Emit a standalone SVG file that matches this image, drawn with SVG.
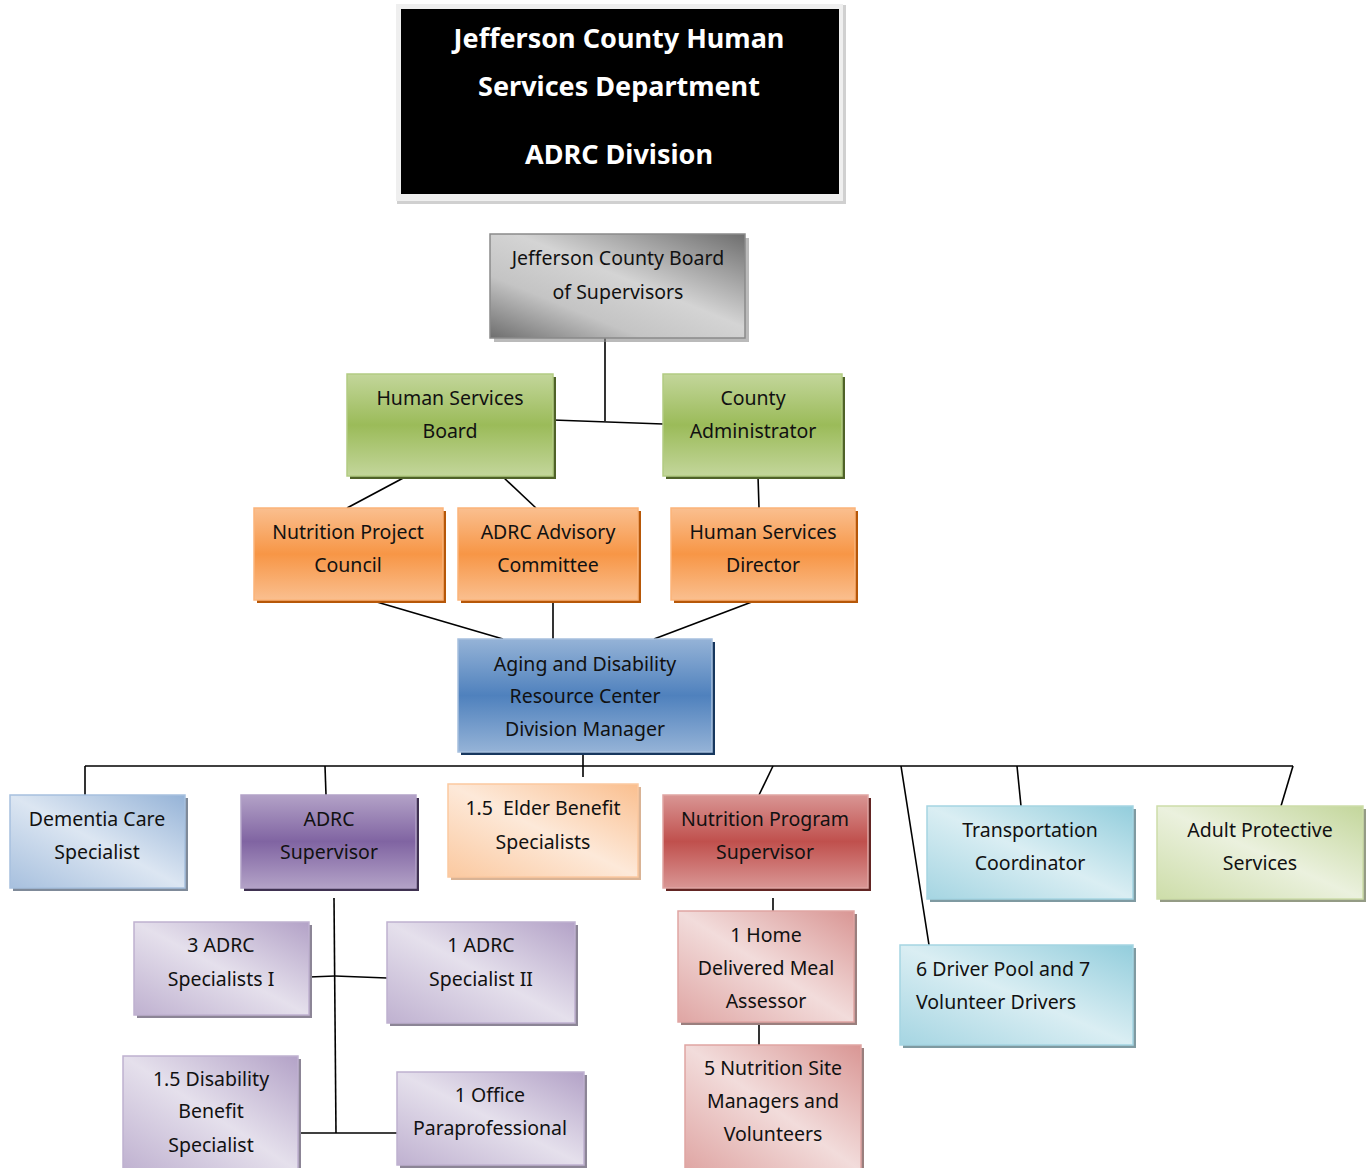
<svg xmlns="http://www.w3.org/2000/svg" width="1371" height="1168" viewBox="0 0 1371 1168">
<defs>
<style>
.t{font-family:"Noto Sans","Open Sans","Liberation Sans",sans-serif;font-size:19.5px;fill:#111;text-anchor:middle}
.tl{text-anchor:start}
.h{font-family:"Noto Sans","Open Sans","Liberation Sans",sans-serif;font-size:27px;font-weight:bold;fill:#fff;text-anchor:middle}
.ln{stroke:#000;stroke-width:1.6;fill:none}
</style>
<linearGradient id="gGreen" x1="0" y1="0" x2="0" y2="1"><stop offset="0" stop-color="#c3d69b"/><stop offset="0.5" stop-color="#9bbb59"/><stop offset="1" stop-color="#c3d69b"/></linearGradient>
<linearGradient id="gOrange" x1="0" y1="0" x2="0" y2="1"><stop offset="0" stop-color="#fabf8f"/><stop offset="0.5" stop-color="#f79646"/><stop offset="1" stop-color="#fabf8f"/></linearGradient>
<linearGradient id="gBlue" x1="0" y1="0" x2="0" y2="1"><stop offset="0" stop-color="#95b3d7"/><stop offset="0.5" stop-color="#4f81bd"/><stop offset="1" stop-color="#95b3d7"/></linearGradient>
<linearGradient id="gPurple" x1="0" y1="0" x2="0" y2="1"><stop offset="0" stop-color="#b3a2c7"/><stop offset="0.5" stop-color="#8064a2"/><stop offset="1" stop-color="#b3a2c7"/></linearGradient>
<linearGradient id="gRed" x1="0" y1="0" x2="0" y2="1"><stop offset="0" stop-color="#d99694"/><stop offset="0.5" stop-color="#c0504d"/><stop offset="1" stop-color="#d99694"/></linearGradient>
<linearGradient id="gGray" x1="1" y1="0" x2="0" y2="1"><stop offset="0" stop-color="#6e6e6e"/><stop offset="0.45" stop-color="#d4d4d4"/><stop offset="0.7" stop-color="#c4c4c4"/><stop offset="1" stop-color="#6e6e6e"/></linearGradient>
<linearGradient id="gLBlue" x1="1" y1="0" x2="0" y2="1"><stop offset="0" stop-color="#95b3d7"/><stop offset="0.5" stop-color="#dce6f2"/><stop offset="1" stop-color="#a7c0de"/></linearGradient>
<linearGradient id="gLOrange" x1="1" y1="0" x2="0" y2="1"><stop offset="0" stop-color="#fabf8f"/><stop offset="0.5" stop-color="#fde9d9"/><stop offset="1" stop-color="#fbc9a0"/></linearGradient>
<linearGradient id="gLCyan" x1="1" y1="0" x2="0" y2="1"><stop offset="0" stop-color="#92cddc"/><stop offset="0.5" stop-color="#daeef3"/><stop offset="1" stop-color="#a5d5e2"/></linearGradient>
<linearGradient id="gLGreen" x1="1" y1="0" x2="0" y2="1"><stop offset="0" stop-color="#c3d69b"/><stop offset="0.5" stop-color="#ebf1de"/><stop offset="1" stop-color="#cddda9"/></linearGradient>
<linearGradient id="gLPurple" x1="1" y1="0" x2="0" y2="1"><stop offset="0" stop-color="#b3a2c7"/><stop offset="0.5" stop-color="#e5e0ec"/><stop offset="1" stop-color="#bfb1d0"/></linearGradient>
<linearGradient id="gLRed" x1="1" y1="0" x2="0" y2="1"><stop offset="0" stop-color="#d99694"/><stop offset="0.5" stop-color="#f2dcdb"/><stop offset="1" stop-color="#dfa5a3"/></linearGradient>
</defs>
<rect width="1371" height="1168" fill="#fff"/>

<g id="connectors">
<line class="ln" x1="605" y1="338" x2="605" y2="421"/>
<line class="ln" x1="553" y1="420" x2="663" y2="424"/>
<line class="ln" x1="407" y1="476" x2="347" y2="508"/>
<line class="ln" x1="502" y1="476" x2="536" y2="508"/>
<line class="ln" x1="758" y1="476" x2="759" y2="508"/>
<line class="ln" x1="370" y1="600" x2="503" y2="639"/>
<line class="ln" x1="553" y1="600" x2="553" y2="639"/>
<line class="ln" x1="757" y1="600" x2="654" y2="639"/>
<line class="ln" x1="583" y1="752" x2="583" y2="777"/>
<line class="ln" x1="85" y1="766" x2="1293" y2="766"/>
<line class="ln" x1="85" y1="766" x2="85" y2="795"/>
<line class="ln" x1="325" y1="766" x2="326" y2="795"/>
<line class="ln" x1="773" y1="766" x2="759" y2="795"/>
<line class="ln" x1="901" y1="766" x2="929" y2="945"/>
<line class="ln" x1="1017" y1="766" x2="1021" y2="806"/>
<line class="ln" x1="1293" y1="766" x2="1281" y2="806"/>
<line class="ln" x1="334" y1="898" x2="336" y2="1133"/>
<line class="ln" x1="309" y1="977" x2="335" y2="976"/>
<line class="ln" x1="335" y1="976" x2="387" y2="978"/>
<line class="ln" x1="298" y1="1133" x2="397" y2="1133"/>
<line class="ln" x1="773" y1="898" x2="773" y2="911"/>
<line class="ln" x1="759" y1="1022" x2="759" y2="1045"/>
</g>

<g id="title">
<rect x="397" y="5" width="449" height="199" fill="#d0d0d0"/>
<rect x="396" y="4" width="447" height="197" fill="#efefef"/>
<rect x="401" y="9" width="438" height="185" fill="#000"/>
<text class="h" x="619" y="48">Jefferson County Human</text>
<text class="h" x="619" y="96">Services Department</text>
<text class="h" x="619" y="164">ADRC Division</text>
</g>

<g id="board">
<rect x="494" y="238" width="255" height="104" fill="#8c8c8c" opacity="0.6"/>
<rect x="490" y="234" width="255" height="104" fill="url(#gGray)" stroke="#8a8a8a" stroke-width="1.5"/>
<text class="t" x="618" y="265">Jefferson County Board</text>
<text class="t" x="618" y="299">of Supervisors</text>
</g>

<g id="hsboard">
<rect x="350" y="377" width="206" height="102" fill="#4f6228"/>
<rect x="347" y="374" width="206" height="102" fill="url(#gGreen)" stroke="#b3cc82" stroke-width="1.5"/>
<text class="t" x="450" y="405">Human Services</text>
<text class="t" x="450" y="438">Board</text>
</g>

<g id="countyadmin">
<rect x="666" y="377" width="179" height="102" fill="#4f6228"/>
<rect x="663" y="374" width="179" height="102" fill="url(#gGreen)" stroke="#b3cc82" stroke-width="1.5"/>
<text class="t" x="753" y="405">County</text>
<text class="t" x="753" y="438">Administrator</text>
</g>

<g id="nutritioncouncil">
<rect x="257" y="511" width="189" height="92" fill="#b65708"/>
<rect x="254" y="508" width="189" height="92" fill="url(#gOrange)" stroke="#fbb47a" stroke-width="1.5"/>
<text class="t" x="348" y="539">Nutrition Project</text>
<text class="t" x="348" y="572">Council</text>
</g>

<g id="advisory">
<rect x="461" y="511" width="180" height="92" fill="#b65708"/>
<rect x="458" y="508" width="180" height="92" fill="url(#gOrange)" stroke="#fbb47a" stroke-width="1.5"/>
<text class="t" x="548" y="539">ADRC Advisory</text>
<text class="t" x="548" y="572">Committee</text>
</g>

<g id="hsdirector">
<rect x="674" y="511" width="184" height="92" fill="#b65708"/>
<rect x="671" y="508" width="184" height="92" fill="url(#gOrange)" stroke="#fbb47a" stroke-width="1.5"/>
<text class="t" x="763" y="539">Human Services</text>
<text class="t" x="763" y="572">Director</text>
</g>

<g id="manager">
<rect x="461" y="642" width="254" height="113" fill="#17375e"/>
<rect x="458" y="639" width="254" height="113" fill="url(#gBlue)" stroke="#a7c0de" stroke-width="1.5"/>
<text class="t" x="585" y="671">Aging and Disability</text>
<text class="t" x="585" y="703">Resource Center</text>
<text class="t" x="585" y="736">Division Manager</text>
</g>

<g id="dementia">
<rect x="13" y="798" width="175" height="93" fill="#7f8a99"/>
<rect x="10" y="795" width="175" height="93" fill="url(#gLBlue)" stroke="#a7c0de" stroke-width="1.5"/>
<text class="t" x="97" y="826">Dementia Care</text>
<text class="t" x="97" y="859">Specialist</text>
</g>

<g id="adrcsupervisor">
<rect x="244" y="798" width="175" height="93" fill="#3f3151"/>
<rect x="241" y="795" width="175" height="93" fill="url(#gPurple)" stroke="#b3a2c7" stroke-width="1.5"/>
<text class="t" x="329" y="826">ADRC</text>
<text class="t" x="329" y="859">Supervisor</text>
</g>

<g id="elderbenefit">
<rect x="451" y="787" width="190" height="93" fill="#d9b395"/>
<rect x="448" y="784" width="190" height="93" fill="url(#gLOrange)" stroke="#fbc9a0" stroke-width="1.5"/>
<text class="t" x="543" y="815" xml:space="preserve">1.5  Elder Benefit</text>
<text class="t" x="543" y="849">Specialists</text>
</g>

<g id="nutritionsupervisor">
<rect x="666" y="798" width="205" height="93" fill="#632523"/>
<rect x="663" y="795" width="205" height="93" fill="url(#gRed)" stroke="#dfa5a3" stroke-width="1.5"/>
<text class="t" x="765" y="826">Nutrition Program</text>
<text class="t" x="765" y="859">Supervisor</text>
</g>

<g id="transportation">
<rect x="930" y="809" width="206" height="93" fill="#7f9aa1"/>
<rect x="927" y="806" width="206" height="93" fill="url(#gLCyan)" stroke="#a5d5e2" stroke-width="1.5"/>
<text class="t" x="1030" y="837">Transportation</text>
<text class="t" x="1030" y="870">Coordinator</text>
</g>

<g id="aps">
<rect x="1160" y="809" width="206" height="93" fill="#949b85"/>
<rect x="1157" y="806" width="206" height="93" fill="url(#gLGreen)" stroke="#cddda9" stroke-width="1.5"/>
<text class="t" x="1260" y="837">Adult Protective</text>
<text class="t" x="1260" y="870">Services</text>
</g>

<g id="specialists1">
<rect x="137" y="925" width="175" height="93" fill="#8c8596"/>
<rect x="134" y="922" width="175" height="93" fill="url(#gLPurple)" stroke="#bfb1d0" stroke-width="1.5"/>
<text class="t" x="221" y="952">3 ADRC</text>
<text class="t" x="221" y="986">Specialists I</text>
</g>

<g id="specialist2">
<rect x="390" y="925" width="188" height="101" fill="#8c8596"/>
<rect x="387" y="922" width="188" height="101" fill="url(#gLPurple)" stroke="#bfb1d0" stroke-width="1.5"/>
<text class="t" x="481" y="952">1 ADRC</text>
<text class="t" x="481" y="986">Specialist II</text>
</g>

<g id="disability">
<rect x="126" y="1059" width="175" height="112" fill="#8c8596"/>
<rect x="123" y="1056" width="175" height="115" fill="url(#gLPurple)" stroke="#bfb1d0" stroke-width="1.5"/>
<text class="t" x="211" y="1086">1.5 Disability</text>
<text class="t" x="211" y="1118">Benefit</text>
<text class="t" x="211" y="1152">Specialist</text>
</g>

<g id="paraprofessional">
<rect x="400" y="1075" width="187" height="93" fill="#8c8596"/>
<rect x="397" y="1072" width="187" height="93" fill="url(#gLPurple)" stroke="#bfb1d0" stroke-width="1.5"/>
<text class="t" x="490" y="1102">1 Office</text>
<text class="t" x="490" y="1135">Paraprofessional</text>
</g>

<g id="homedelivered">
<rect x="681" y="914" width="176" height="111" fill="#9a7f7e"/>
<rect x="678" y="911" width="176" height="111" fill="url(#gLRed)" stroke="#dfa5a3" stroke-width="1.5"/>
<text class="t" x="766" y="942">1 Home</text>
<text class="t" x="766" y="975">Delivered Meal</text>
<text class="t" x="766" y="1008">Assessor</text>
</g>

<g id="sitemanagers">
<rect x="688" y="1048" width="176" height="123" fill="#9a7f7e"/>
<rect x="685" y="1045" width="176" height="126" fill="url(#gLRed)" stroke="#dfa5a3" stroke-width="1.5"/>
<text class="t" x="773" y="1075">5 Nutrition Site</text>
<text class="t" x="773" y="1108">Managers and</text>
<text class="t" x="773" y="1141">Volunteers</text>
</g>

<g id="drivers">
<rect x="903" y="948" width="233" height="100" fill="#7f9aa1"/>
<rect x="900" y="945" width="233" height="100" fill="url(#gLCyan)" stroke="#a5d5e2" stroke-width="1.5"/>
<text class="t tl" x="916" y="976">6 Driver Pool and 7</text>
<text class="t tl" x="916" y="1009">Volunteer Drivers</text>
</g>
</svg>
